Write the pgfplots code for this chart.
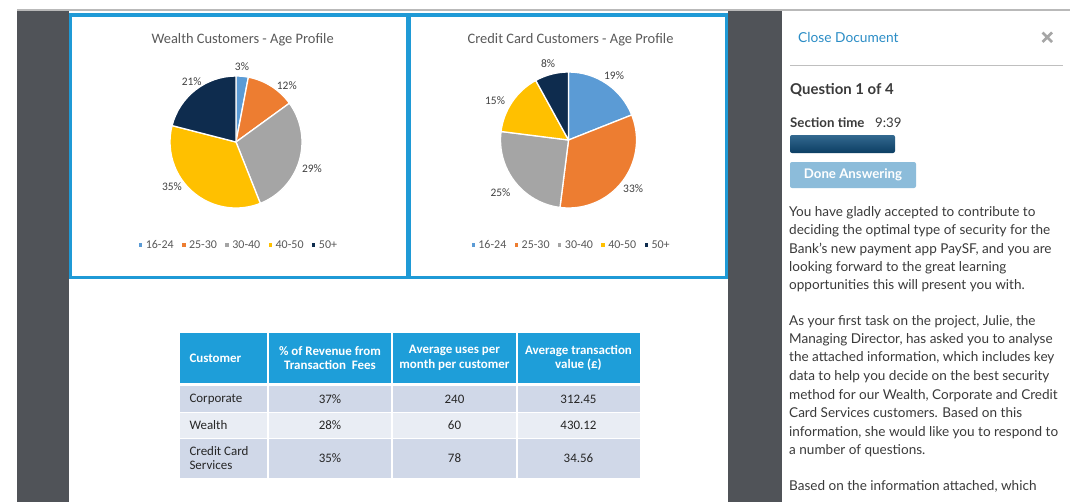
\documentclass[border=0pt]{standalone}
\usepackage{fontspec}
\setmainfont{Carlito}
\newfontfamily\panelfont{Lato}
\usepackage{pgfplots}
\pgfplotsset{compat=1.18}
\definecolor{cA}{HTML}{5B9BD5}
\definecolor{cB}{HTML}{ED7D31}
\definecolor{cC}{HTML}{A5A5A5}
\definecolor{cD}{HTML}{FFC000}
\definecolor{cE}{HTML}{0E2C4E}
\definecolor{frameblue}{HTML}{1F9AD6}
\definecolor{sidegray}{HTML}{505358}
\definecolor{thead}{HTML}{1E9ED9}
\definecolor{rowdark}{HTML}{D0D8E8}
\definecolor{rowlight}{HTML}{E9EDF4}
\definecolor{titlegray}{HTML}{595959}
\definecolor{labgray}{HTML}{404040}
\definecolor{linkblue}{HTML}{2B8DC6}
\definecolor{bodytext}{HTML}{3A3A3A}
\definecolor{barblue}{HTML}{0F4E7C}
\definecolor{btnblue}{HTML}{8CBCDA}
\definecolor{celltext}{HTML}{262626}
\pgfplotsset{
  pie/.style={hide axis, clip=false, anchor=center,
    xmin=-2.5, xmax=2.5, ymin=-2, ymax=2,
    legend columns=5, legend cell align=left,
    legend image code/.code={\fill[##1, draw=none] (0bp,-1.7bp) rectangle (3.4bp,1.7bp);},
    legend style={draw=none, fill=none, text=titlegray,
      font=\fontsize{12}{13}\selectfont,
      /tikz/every odd column/.append style={column sep=1.5bp},
      /tikz/every even column/.append style={column sep=6.5bp}}},
}
\tikzset{
  slice/.style={draw=white, line width=1.3bp, line join=round},
  lab/.style={font=\fontsize{11.5}{12}\selectfont, text=labgray},
  ttl/.style={font=\fontsize{14.5}{16}\selectfont, text=titlegray},
  hd/.style={font=\bfseries\fontsize{13}{14.5}\selectfont, text=white, align=center},
  cell/.style={font=\fontsize{13}{14.5}\selectfont, text=celltext, align=left},
  ptxt/.style={anchor=base west, inner sep=0pt, font=\panelfont\fontsize{13.6}{15}\selectfont, text=bodytext},
}
\begin{document}
\begin{tikzpicture}
\fill[white] (0,0) rectangle (1080bp,-502bp);
\begin{scope}[x=1bp,y=-1bp]
  % page background pieces
  \fill[sidegray] (17,9) rectangle (69,502);
  \fill[sidegray] (728,9) rectangle (782,502);
  \fill[gray!55] (17,8.5) rectangle (1070,10.5);
  % blue frames
  \fill[frameblue] (69,13) rectangle (728,16.5);
  \fill[frameblue] (69,275.5) rectangle (728,279);
  \fill[frameblue] (69,13) rectangle (71.5,279);
  \fill[frameblue] (406,13) rectangle (410.5,279);
  \fill[frameblue] (725,13) rectangle (728,279);
  % table
  \fill[thead] (180,333) rectangle (267,383);
  \fill[thead] (269,333) rectangle (391,383);
  \fill[thead] (393,333) rectangle (516,383);
  \fill[thead] (518,333) rectangle (640,383);
  \foreach \xa/\xb in {180/267,269/391,393/516,518/640}{
    \fill[rowdark] (\xa,386) rectangle (\xb,411.5);
    \fill[rowlight] (\xa,412.5) rectangle (\xb,437.5);
    \fill[rowdark] (\xa,438.5) rectangle (\xb,478);
  }
  \node[hd, anchor=west] at (186,358) {Customer};
  \node[hd] at (330,358) {\% of Revenue from\\Transaction\ \ Fees};
  \node[hd] at (454.5,358) {Average uses per\\month per customer};
  \node[hd] at (578.5,358) {Average transaction\\value (£)};
  \node[cell, anchor=west] at (186,399) {Corporate};
  \node[cell] at (330,399) {37\%};
  \node[cell] at (454.5,399) {240};
  \node[cell] at (578.5,399) {312.45};
  \node[cell, anchor=west] at (186,425) {Wealth};
  \node[cell] at (330,425) {28\%};
  \node[cell] at (454.5,425) {60};
  \node[cell] at (578.5,425) {430.12};
  \node[cell, anchor=west] at (186,458) {Credit Card\\Services};
  \node[cell] at (330,458) {35\%};
  \node[cell] at (454.5,458) {78};
  \node[cell] at (578.5,458) {34.56};
  % side panel
  \node[anchor=west, inner sep=0pt, font=\panelfont\fontsize{13.8}{15}\selectfont, text=linkblue] at (798,37) {Close Document};
  \draw[gray!70, line width=2.6bp] (1042.5,32.5) -- (1052,42) (1042.5,42) -- (1052,32.5);
  \fill[gray!50] (790,64.5) rectangle (1063,66);
  \node[anchor=west, inner sep=0pt, font=\panelfont\bfseries\fontsize{15}{17}\selectfont, text=bodytext] at (790,90) {Question 1 of 4};
  \node[anchor=west, inner sep=0pt, font=\panelfont\bfseries\fontsize{13.3}{15}\selectfont, text=bodytext] at (790,123) {Section time};
  \node[anchor=west, inner sep=0pt, font=\panelfont\fontsize{13.3}{15}\selectfont, text=bodytext] at (875,123) {9:39};
  \shade[top color=barblue!85!white, bottom color=barblue!80!black, rounded corners=2bp] (790,135) rectangle (895,153);
  \fill[btnblue, rounded corners=2bp] (790,162) rectangle (916,188);
  \node[inner sep=0pt, font=\panelfont\bfseries\fontsize{13.3}{15}\selectfont, text=white] at (853,175) {Done Answering};
  \node[ptxt] at (789,216.5) {You have gladly accepted to contribute to};
  \node[ptxt] at (789,234.5) {deciding the optimal type of security for the};
  \node[ptxt] at (789,253.5) {Bank’s new payment app PaySF, and you are};
  \node[ptxt] at (789,271.5) {looking forward to the great learning};
  \node[ptxt] at (789,289.5) {opportunities this will present you with.};
  \node[ptxt] at (789,325.5) {As your first task on the project, Julie, the};
  \node[ptxt] at (789,343.5) {Managing Director, has asked you to analyse};
  \node[ptxt] at (789,361.5) {the attached information, which includes key};
  \node[ptxt] at (789,380.5) {data to help you decide on the best security};
  \node[ptxt] at (789,399.5) {method for our Wealth, Corporate and Credit};
  \node[ptxt] at (789,417.5) {Card Services customers. Based on this};
  \node[ptxt] at (789,436.5) {information, she would like you to respond to};
  \node[ptxt] at (789,454.5) {a number of questions.};
  \node[ptxt] at (789,490.5) {Based on the information attached, which};
\end{scope}

% ---------- Wealth Customers pie: 3, 12, 29, 35, 21 ----------
\begin{axis}[pie, at={(236bp,-142bp)}, x=66bp, y=66bp,
  legend style={at={(0.509,0.11)}, anchor=center}]
\addlegendimage{fill=cA}\addlegendentry{16-24}
\addlegendimage{fill=cB}\addlegendentry{25-30}
\addlegendimage{fill=cC}\addlegendentry{30-40}
\addlegendimage{fill=cD}\addlegendentry{40-50}
\addlegendimage{fill=cE}\addlegendentry{50+}
\fill[cA, slice] (axis cs:0,0) -- (axis cs:{cos(90)},{sin(90)}) arc[start angle=90, end angle={90-3.6*3}, radius=1] -- cycle;
\fill[cB, slice] (axis cs:0,0) -- (axis cs:{cos(90-3.6*3)},{sin(90-3.6*3)}) arc[start angle={90-3.6*3}, end angle={90-3.6*15}, radius=1] -- cycle;
\fill[cC, slice] (axis cs:0,0) -- (axis cs:{cos(90-3.6*15)},{sin(90-3.6*15)}) arc[start angle={90-3.6*15}, end angle={90-3.6*44}, radius=1] -- cycle;
\fill[cD, slice] (axis cs:0,0) -- (axis cs:{cos(90-3.6*44)},{sin(90-3.6*44)}) arc[start angle={90-3.6*44}, end angle={90-3.6*79}, radius=1] -- cycle;
\fill[cE, slice] (axis cs:0,0) -- (axis cs:{cos(90-3.6*79)},{sin(90-3.6*79)}) arc[start angle={90-3.6*79}, end angle={90-3.6*100}, radius=1] -- cycle;
\node[lab] at (axis cs:0.09,1.14) {3\%};
\node[lab] at (axis cs:0.77,0.86) {12\%};
\node[lab] at (axis cs:1.15,-0.40) {29\%};
\node[lab] at (axis cs:-0.97,-0.68) {35\%};
\node[lab] at (axis cs:-0.67,0.91) {21\%};
\node[ttl] at (axis cs:0.10,1.545) {Wealth Customers - Age Profile};
\end{axis}

% ---------- Credit Card Customers pie: 19, 33, 25, 15, 8 ----------
\begin{axis}[pie, at={(568.5bp,-140bp)}, x=68bp, y=68bp,
  legend style={at={(0.509,0.114)}, anchor=center}]
\addlegendimage{fill=cA}\addlegendentry{16-24}
\addlegendimage{fill=cB}\addlegendentry{25-30}
\addlegendimage{fill=cC}\addlegendentry{30-40}
\addlegendimage{fill=cD}\addlegendentry{40-50}
\addlegendimage{fill=cE}\addlegendentry{50+}
\fill[cA, slice] (axis cs:0,0) -- (axis cs:{cos(90)},{sin(90)}) arc[start angle=90, end angle={90-3.6*19}, radius=1] -- cycle;
\fill[cB, slice] (axis cs:0,0) -- (axis cs:{cos(90-3.6*19)},{sin(90-3.6*19)}) arc[start angle={90-3.6*19}, end angle={90-3.6*52}, radius=1] -- cycle;
\fill[cC, slice] (axis cs:0,0) -- (axis cs:{cos(90-3.6*52)},{sin(90-3.6*52)}) arc[start angle={90-3.6*52}, end angle={90-3.6*77}, radius=1] -- cycle;
\fill[cD, slice] (axis cs:0,0) -- (axis cs:{cos(90-3.6*77)},{sin(90-3.6*77)}) arc[start angle={90-3.6*77}, end angle={90-3.6*92}, radius=1] -- cycle;
\fill[cE, slice] (axis cs:0,0) -- (axis cs:{cos(90-3.6*92)},{sin(90-3.6*92)}) arc[start angle={90-3.6*92}, end angle={90-3.6*100}, radius=1] -- cycle;
\node[lab] at (axis cs:-0.30,1.13) {8\%};
\node[lab] at (axis cs:0.67,0.94) {19\%};
\node[lab] at (axis cs:0.95,-0.72) {33\%};
\node[lab] at (axis cs:-1.00,-0.78) {25\%};
\node[lab] at (axis cs:-1.08,0.58) {15\%};
\node[ttl] at (axis cs:0.03,1.47) {Credit Card Customers - Age Profile};
\end{axis}

\pgfresetboundingbox
\useasboundingbox (0,0) rectangle (1080bp,-502bp);
\end{tikzpicture}
\end{document}
